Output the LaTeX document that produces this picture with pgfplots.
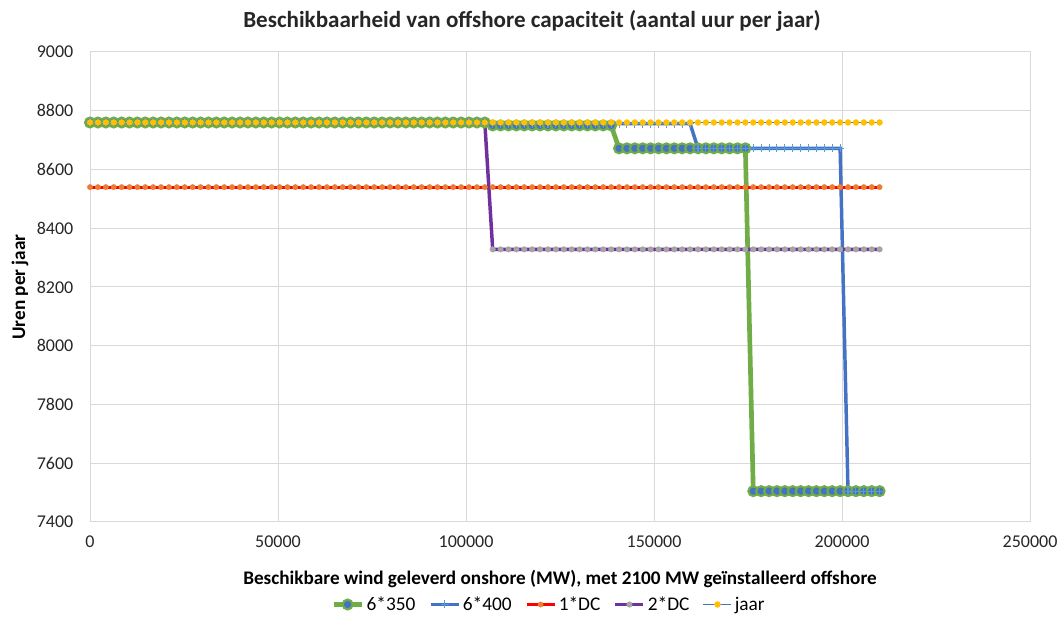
\documentclass[border=0pt]{standalone}
\usepackage{fontspec}
\setmainfont{Carlito}
\usepackage{pgfplots}
\pgfplotsset{compat=1.18}
\usepackage{pgfplotstable}
\definecolor{cgreen}{HTML}{70AD47}
\definecolor{cblue}{HTML}{4472C4}
\definecolor{clblue}{HTML}{5B9BD5}
\definecolor{cred}{HTML}{FF0000}
\definecolor{corange}{HTML}{ED7D31}
\definecolor{cpurple}{HTML}{7030A0}
\definecolor{cgray}{HTML}{A5A5A5}
\definecolor{cyellow}{HTML}{FFC000}
\definecolor{cgrid}{HTML}{D9D9D9}

\pgfplotstableread{
x a b c d e
0 8760 8760 8540 8760 8760
2100 8760 8760 8540 8760 8760
4200 8760 8760 8540 8760 8760
6300 8760 8760 8540 8760 8760
8400 8760 8760 8540 8760 8760
10500 8760 8760 8540 8760 8760
12600 8760 8760 8540 8760 8760
14700 8760 8760 8540 8760 8760
16800 8760 8760 8540 8760 8760
18900 8760 8760 8540 8760 8760
21000 8760 8760 8540 8760 8760
23100 8760 8760 8540 8760 8760
25200 8760 8760 8540 8760 8760
27300 8760 8760 8540 8760 8760
29400 8760 8760 8540 8760 8760
31500 8760 8760 8540 8760 8760
33600 8760 8760 8540 8760 8760
35700 8760 8760 8540 8760 8760
37800 8760 8760 8540 8760 8760
39900 8760 8760 8540 8760 8760
42000 8760 8760 8540 8760 8760
44100 8760 8760 8540 8760 8760
46200 8760 8760 8540 8760 8760
48300 8760 8760 8540 8760 8760
50400 8760 8760 8540 8760 8760
52500 8760 8760 8540 8760 8760
54600 8760 8760 8540 8760 8760
56700 8760 8760 8540 8760 8760
58800 8760 8760 8540 8760 8760
60900 8760 8760 8540 8760 8760
63000 8760 8760 8540 8760 8760
65100 8760 8760 8540 8760 8760
67200 8760 8760 8540 8760 8760
69300 8760 8760 8540 8760 8760
71400 8760 8760 8540 8760 8760
73500 8760 8760 8540 8760 8760
75600 8760 8760 8540 8760 8760
77700 8760 8760 8540 8760 8760
79800 8760 8760 8540 8760 8760
81900 8760 8760 8540 8760 8760
84000 8760 8760 8540 8760 8760
86100 8760 8760 8540 8760 8760
88200 8760 8760 8540 8760 8760
90300 8760 8760 8540 8760 8760
92400 8760 8760 8540 8760 8760
94500 8760 8760 8540 8760 8760
96600 8760 8760 8540 8760 8760
98700 8760 8760 8540 8760 8760
100800 8760 8760 8540 8760 8760
102900 8760 8760 8540 8760 8760
105000 8760 8760 8540 8760 8760
107100 8750 8756 8540 8328 8760
109200 8750 8756 8540 8328 8760
111300 8750 8756 8540 8328 8760
113400 8750 8756 8540 8328 8760
115500 8750 8756 8540 8328 8760
117600 8750 8756 8540 8328 8760
119700 8750 8756 8540 8328 8760
121800 8750 8756 8540 8328 8760
123900 8750 8756 8540 8328 8760
126000 8750 8756 8540 8328 8760
128100 8750 8756 8540 8328 8760
130200 8750 8756 8540 8328 8760
132300 8750 8756 8540 8328 8760
134400 8750 8756 8540 8328 8760
136500 8750 8756 8540 8328 8760
138600 8750 8756 8540 8328 8760
140700 8672 8756 8540 8328 8760
142800 8672 8756 8540 8328 8760
144900 8672 8756 8540 8328 8760
147000 8672 8756 8540 8328 8760
149100 8672 8756 8540 8328 8760
151200 8672 8756 8540 8328 8760
153300 8672 8756 8540 8328 8760
155400 8672 8756 8540 8328 8760
157500 8672 8756 8540 8328 8760
159600 8672 8756 8540 8328 8760
161700 8672 8672 8540 8328 8760
163800 8672 8672 8540 8328 8760
165900 8672 8672 8540 8328 8760
168000 8672 8672 8540 8328 8760
170100 8672 8672 8540 8328 8760
172200 8672 8672 8540 8328 8760
174300 8672 8672 8540 8328 8760
176400 7505 8672 8540 8328 8760
178500 7505 8672 8540 8328 8760
180600 7505 8672 8540 8328 8760
182700 7505 8672 8540 8328 8760
184800 7505 8672 8540 8328 8760
186900 7505 8672 8540 8328 8760
189000 7505 8672 8540 8328 8760
191100 7505 8672 8540 8328 8760
193200 7505 8672 8540 8328 8760
195300 7505 8672 8540 8328 8760
197400 7505 8672 8540 8328 8760
199500 7505 8672 8540 8328 8760
201600 7505 7505 8540 8328 8760
203700 7505 7505 8540 8328 8760
205800 7505 7505 8540 8328 8760
207900 7505 7505 8540 8328 8760
210000 7505 7505 8540 8328 8760
}\data

\begin{document}
\begin{tikzpicture}
\begin{axis}[
  at={(67.5pt,76.5pt)}, anchor=south west,
  width=705pt, height=352.5pt, scale only axis,
  xmin=0, xmax=250000, ymin=7400, ymax=9000,
  xtick={0,50000,100000,150000,200000,250000},
  ytick={7400,7600,7800,8000,8200,8400,8600,8800,9000},
  scaled x ticks=false, scaled y ticks=false,
  /pgf/number format/fixed,
  /pgf/number format/precision=0,
  /pgf/number format/1000 sep={},
  /pgf/number format/assume math mode=true,
  grid=major, grid style={draw=cgrid, line width=0.75pt},
  axis line style={draw=cgrid, line width=0.75pt},
  major tick length=0pt,
  tick label style={font=\fontsize{13.5}{16}\selectfont, text=black!85},
  xticklabel style={yshift=-7pt},
  yticklabel style={xshift=-9pt},
  xlabel={Beschikbare wind geleverd onshore (MW), met 2100 MW geïnstalleerd offshore},
  ylabel={Uren per jaar},
  label style={font=\bfseries\fontsize{14.4}{17}\selectfont},
  xlabel style={at={(axis description cs:0.5,-0.121)}, anchor=center},
  ylabel style={at={(axis description cs:-0.0745,0.5)}, anchor=center},
  legend columns=5,
  legend style={draw=none, fill=none, at={(axis description cs:0.5,-0.1755)}, anchor=center, xshift=-8pt,
    font=\fontsize{14.5}{17}\selectfont, /tikz/every even column/.append style={column sep=8pt}},
  legend image code/.code={\draw[mark repeat=2,mark phase=2] plot coordinates {(0pt,0pt) (10.5pt,0pt) (21pt,0pt)};},
]
\addplot[color=cgreen, line width=3.5pt, mark=*, mark size=3.7pt, mark options={fill=cblue, draw=cgreen, line width=1.6pt}] table[x=x, y=a] {\data};
\addlegendentry{6*350}
\addplot[color=cblue, line width=2.6pt, mark=+, mark size=3pt, mark options={draw=clblue, line width=0.8pt}] table[x=x, y=b] {\data};
\addlegendentry{6*400}
\addplot[color=cred, line width=2.25pt, mark=*, mark size=2pt, mark options={fill=corange, draw=corange, line width=0.3pt}] table[x=x, y=c] {\data};
\addlegendentry{1*DC}
\addplot[color=cpurple, line width=2.6pt, mark=*, mark size=2.1pt, mark options={fill=cgray, draw=cgray, line width=0.3pt}] table[x=x, y=d] {\data};
\addlegendentry{2*DC}
\addplot[color=cblue, line width=1pt, mark=*, mark size=2.2pt, mark options={fill=cyellow, draw=cyellow, line width=0.3pt}] table[x=x, y=e] {\data};
\addlegendentry{jaar}
\end{axis}
\node[font=\bfseries\fontsize{17.3}{20}\selectfont, text=black!85] at (399pt,452pt) {Beschikbaarheid van offshore capaciteit (aantal uur per jaar)};
\pgfresetboundingbox
\path (0pt,0pt) rectangle (798pt,468pt);
\end{tikzpicture}
\end{document}
